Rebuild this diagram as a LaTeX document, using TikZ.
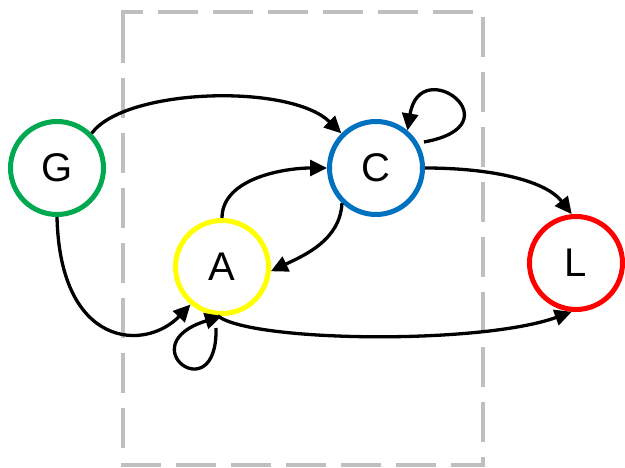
\documentclass[tikz,border=0pt]{standalone}
\usepackage{fontspec}
\setmainfont{Liberation Sans}
\usetikzlibrary{arrows.meta}
\definecolor{ggreen}{RGB}{0,168,80}
\definecolor{cblue}{RGB}{0,112,192}
\definecolor{ayellow}{RGB}{255,255,0}
\definecolor{lred}{RGB}{255,0,0}
\definecolor{boxgray}{RGB}{191,191,191}
\begin{document}
\begin{tikzpicture}[x=1pt,y=-1pt,
  state/.style={circle,draw,line width=5pt,minimum size=93pt,inner sep=0pt,font=\fontsize{40}{40}\selectfont},
  edge/.style={line width=3.3pt,-{Triangle[length=17pt,width=16pt]}},
  boxline/.style={draw=boxgray,line width=4pt,dash pattern=on 40pt off 15pt}]
\useasboundingbox (0,0) rectangle (625,468);
\draw[boxline] (123,32) -- (123,12) -- (483,12) -- (483,465) -- (123,465) -- cycle;
\node[state,draw=ggreen] (G) at (57,168) {G};
\node[state,draw=cblue] (C) at (376,168) {C};
\node[state,draw=ayellow] (A) at (222,267) {A};
\node[state,draw=lred] (L) at (576,263) {L};
\coordinate (cloop) at (424,142);
\coordinate (aloop) at (216,328);
\draw[edge] (G.45) .. controls (125,88) and (290,83) .. (C.135);
\draw[edge] (cloop) .. controls (518,125) and (420,52) .. (C.50);
\draw[edge] (A.north) .. controls (222,178) and (285,168) .. (C.west);
\draw[edge] (C.226) .. controls (340,240) and (305,255) .. (A.355);
\draw[edge] (C.east) .. controls (490,168) and (545,180) .. (L.95);
\draw[edge] (A.265) .. controls (250,342) and (480,345) .. (L.265);
\draw[edge] (G.south) .. controls (60,348) and (145,352) .. (A.230);
\draw[edge] (aloop) .. controls (218,412) and (128,345) .. (A.south);
\end{tikzpicture}
\end{document}
